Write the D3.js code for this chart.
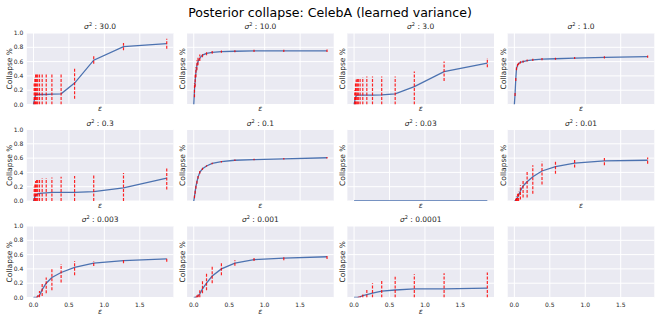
<!DOCTYPE html>
<meta charset="utf-8">
<script src="https://d3js.org/d3.v7.min.js"></script>
<style>
  body { margin: 0; background: #fff; }
  text { font-family: "DejaVu Sans", sans-serif; fill: #262626; }
</style>
<div id="my_dataviz"></div>
<script>

// panel titles (sigma^2) and shared epsilon values
var sigmaLabels = ["30.0", "10.0", "3.0", "1.0", "0.3", "0.1", "0.03", "0.01", "0.003", "0.001", "0.0001"];
var eps = [0, 0.01, 0.02, 0.03, 0.045, 0.06, 0.085, 0.123, 0.18, 0.26, 0.39, 0.58, 0.85, 1.27, 1.88];

// mean collapse per panel
var meanValues = [
  [0, 0.05, 0.1, 0.13, 0.14, 0.14, 0.14, 0.14, 0.14, 0.145, 0.15, 0.30, 0.62, 0.81, 0.85],
  [0, 0.2, 0.33, 0.45, 0.55, 0.6, 0.65, 0.69, 0.715, 0.73, 0.74, 0.745, 0.75, 0.75, 0.75],
  [0, 0.05, 0.1, 0.12, 0.13, 0.13, 0.13, 0.13, 0.13, 0.13, 0.135, 0.15, 0.25, 0.46, 0.58],
  [0, 0.15, 0.36, 0.5, 0.55, 0.57, 0.59, 0.6, 0.615, 0.625, 0.635, 0.64, 0.65, 0.66, 0.67],
  [0, 0.03, 0.06, 0.08, 0.09, 0.1, 0.105, 0.11, 0.115, 0.12, 0.12, 0.122, 0.13, 0.185, 0.32],
  [0, 0.06, 0.13, 0.2, 0.27, 0.33, 0.4, 0.45, 0.49, 0.525, 0.55, 0.57, 0.58, 0.59, 0.605],
  [0, 0, 0, 0, 0, 0, 0, 0, 0, 0, 0, 0, 0, 0, 0],
  [0, 0, 0.01, 0.03, 0.05, 0.08, 0.14, 0.21, 0.27, 0.34, 0.42, 0.48, 0.53, 0.56, 0.57],
  [0, 0, 0, 0, 0.005, 0.01, 0.03, 0.11, 0.2, 0.28, 0.35, 0.42, 0.48, 0.515, 0.54],
  [0, 0, 0, 0.005, 0.01, 0.02, 0.05, 0.12, 0.2, 0.3, 0.4, 0.48, 0.53, 0.55, 0.57],
  [0, 0, 0, 0, 0, 0.005, 0.01, 0.025, 0.04, 0.06, 0.09, 0.105, 0.12, 0.12, 0.13]
];

// red dashed error bars (low / high end)
var redLow = [
  [0, 0, 0, 0, 0, 0, 0, 0, 0, 0, 0, 0.08, 0.57, 0.76, 0.78],
  [0, 0.1, 0.25, 0.38, 0.48, 0.55, 0.61, 0.66, 0.69, 0.71, 0.725, 0.73, 0.735, 0.735, 0.735],
  [0, 0, 0, 0, 0, 0, 0, 0, 0, 0, 0, 0, 0, 0.33, 0.52],
  [0, 0.12, 0.33, 0.48, 0.53, 0.555, 0.575, 0.585, 0.6, 0.61, 0.62, 0.625, 0.635, 0.645, 0.655],
  [0, 0, 0, 0, 0, 0, 0, 0, 0, 0, 0, 0, 0, 0, 0.16],
  [0, 0.04, 0.1, 0.17, 0.24, 0.31, 0.38, 0.435, 0.48, 0.515, 0.54, 0.56, 0.57, 0.58, 0.595],
  [0, 0, 0, 0, 0, 0, 0, 0, 0, 0, 0, 0, 0, 0, 0],
  [0, 0, 0, 0, 0, 0, 0.02, 0.05, 0.05, 0.1, 0.23, 0.38, 0.47, 0.5, 0.52],
  [0, 0, 0, 0, 0, 0, 0, 0.02, 0.06, 0.1, 0.21, 0.31, 0.44, 0.48, 0.5],
  [0, 0, 0, 0, 0, 0, 0, 0.06, 0.1, 0.2, 0.31, 0.445, 0.51, 0.52, 0.54],
  [0, 0, 0, 0, 0, 0, 0, 0, 0, 0, 0, 0, 0, 0, 0]
];
var redHigh = [
  [0, 0.3, 0.38, 0.42, 0.42, 0.42, 0.42, 0.42, 0.42, 0.42, 0.44, 0.50, 0.68, 0.86, 0.92],
  [0, 0.3, 0.42, 0.52, 0.62, 0.66, 0.7, 0.72, 0.74, 0.75, 0.755, 0.76, 0.765, 0.765, 0.77],
  [0, 0.2, 0.3, 0.35, 0.37, 0.37, 0.37, 0.38, 0.39, 0.39, 0.39, 0.39, 0.46, 0.6, 0.65],
  [0, 0.18, 0.39, 0.52, 0.57, 0.585, 0.605, 0.615, 0.63, 0.64, 0.65, 0.655, 0.665, 0.675, 0.685],
  [0, 0.2, 0.25, 0.28, 0.3, 0.31, 0.31, 0.32, 0.32, 0.33, 0.34, 0.35, 0.36, 0.39, 0.47],
  [0, 0.08, 0.16, 0.23, 0.3, 0.35, 0.42, 0.465, 0.5, 0.535, 0.56, 0.58, 0.59, 0.6, 0.615],
  [0, 0, 0, 0, 0, 0, 0, 0, 0, 0, 0, 0, 0, 0, 0],
  [0, 0, 0.03, 0.07, 0.1, 0.13, 0.22, 0.3, 0.42, 0.5, 0.55, 0.57, 0.59, 0.6, 0.61],
  [0, 0, 0, 0, 0.01, 0.03, 0.09, 0.19, 0.28, 0.41, 0.47, 0.51, 0.51, 0.53, 0.56],
  [0, 0, 0, 0.01, 0.03, 0.05, 0.1, 0.25, 0.35, 0.45, 0.49, 0.52, 0.557, 0.566, 0.594],
  [0, 0, 0, 0, 0, 0.01, 0.02, 0.045, 0.105, 0.2, 0.245, 0.29, 0.325, 0.34, 0.35]
];

var xTicks = [0, 0.5, 1.0, 1.5];
var yTicks = [0, 0.2, 0.4, 0.6, 0.8, 1.0];

// layout of the 3x4 grid
var W = 660, H = 332;
var colLeft = [26.8, 187.1, 347.4, 507.7],
    rowTop = [33, 129.5, 226],
    pw = 146.6, ph = 71.5;

var svg = d3.select("#my_dataviz")
  .append("svg")
    .attr("width", W)
    .attr("height", H);

svg.append("text")
    .attr("x", 330)
    .attr("y", 16.5)
    .attr("text-anchor", "middle")
    .style("font-size", "12.6px")
    .style("fill", "#000")
    .text("Posterior collapse: CelebA (learned variance)");

var x = d3.scaleLinear().domain([-0.094, 1.974]).range([0, pw]);
var y = d3.scaleLinear().domain([0, 1]).range([ph, 0]);

var line = d3.line()
  .x(function(d) { return x(d[0]); })
  .y(function(d) { return y(d[1]); });

for (var p = 0; p < 12; p++) {
  var row = Math.floor(p / 4), col = p % 4;
  var g = svg.append("g")
    .attr("transform", "translate(" + colLeft[col] + "," + rowTop[row] + ")");

  g.append("rect")
    .attr("width", pw)
    .attr("height", ph)
    .style("fill", "#eaeaf2");

  // grid
  g.selectAll(".vgrid").data(xTicks).enter().append("line")
    .attr("x1", function(d) { return x(d); })
    .attr("x2", function(d) { return x(d); })
    .attr("y1", 0).attr("y2", ph)
    .style("stroke", "#fff").style("stroke-width", 1);
  g.selectAll(".hgrid").data(yTicks).enter().append("line")
    .attr("y1", function(d) { return y(d); })
    .attr("y2", function(d) { return y(d); })
    .attr("x1", 0).attr("x2", pw)
    .style("stroke", "#fff").style("stroke-width", 1);

  // tick labels
  if (row == 2) {
    g.selectAll(".xt").data(xTicks).enter().append("text")
      .attr("x", function(d) { return x(d); })
      .attr("y", ph + 9)
      .attr("text-anchor", "middle")
      .style("font-size", "6px")
      .text(function(d) { return d.toFixed(1); });
  }
  if (col == 0) {
    g.selectAll(".yt").data(yTicks).enter().append("text")
      .attr("x", -3.5)
      .attr("y", function(d) { return y(d) + 2.1; })
      .attr("text-anchor", "end")
      .style("font-size", "6px")
      .text(function(d) { return d.toFixed(1); });
  }

  if (p >= sigmaLabels.length) continue;

  // title
  var t = g.append("text")
    .attr("x", pw / 2)
    .attr("y", -4)
    .attr("text-anchor", "middle")
    .style("font-size", "7.5px");
  t.append("tspan").style("font-style", "italic").text("σ");
  t.append("tspan").attr("dy", -3).style("font-size", "5px").text("2");
  t.append("tspan").attr("dy", 3).text(" : " + sigmaLabels[p]);

  // axis labels
  g.append("text")
    .attr("x", pw / 2)
    .attr("y", row == 2 ? ph + 16.5 : ph + 6.5)
    .attr("text-anchor", "middle")
    .style("font-size", "7.5px")
    .style("font-style", "italic")
    .text("ε");
  g.append("text")
    .attr("transform", "translate(" + (col == 0 ? -15 : -2) + "," + (ph / 2) + ") rotate(-90)")
    .attr("text-anchor", "middle")
    .style("font-size", "7.5px")
    .text("Collapse %");

  var pts = eps.map(function(e, i) { return [e, meanValues[p][i], redLow[p][i], redHigh[p][i]]; });

  var clip = g.append("clipPath").attr("id", "clip" + p)
    .append("rect").attr("width", pw).attr("height", ph);

  var inner = g.append("g").attr("clip-path", "url(#clip" + p + ")");

  inner.append("path")
    .datum(pts)
    .attr("d", line)
    .style("fill", "none")
    .style("stroke", "#4c72b0")
    .style("stroke-width", 1.3);

  inner.selectAll(".err")
    .data(pts.filter(function(d) { return d[3] > d[2]; }))
    .enter().append("line")
      .attr("x1", function(d) { return x(d[0]); })
      .attr("x2", function(d) { return x(d[0]); })
      .attr("y1", function(d) { return y(d[2]); })
      .attr("y2", function(d) { return y(d[3]); })
      .style("stroke", "#ff0000")
      .style("stroke-opacity", 0.85)
      .style("stroke-width", 1.2)
      .style("stroke-dasharray", "3,1.5");
}
</script>
